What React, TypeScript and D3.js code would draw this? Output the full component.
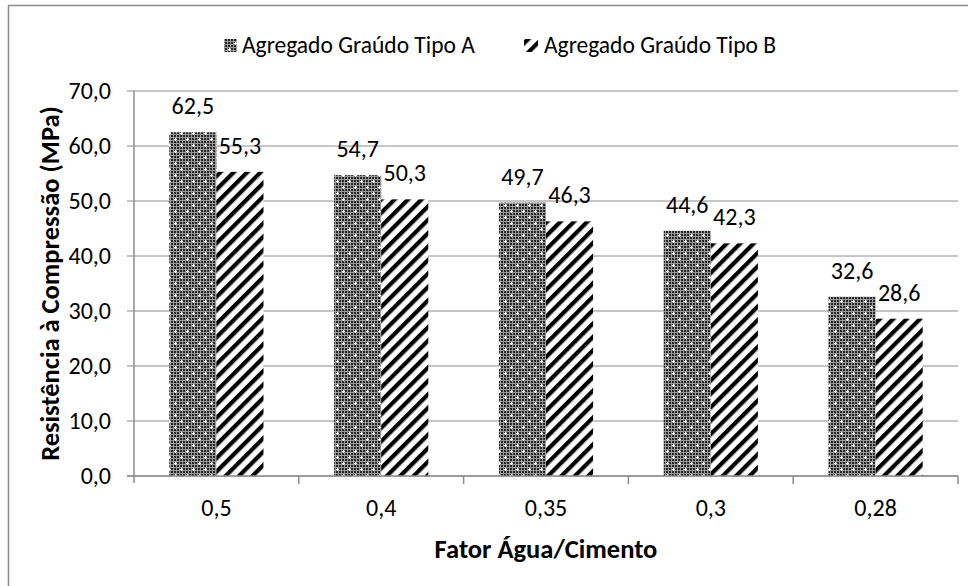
import React from "react";
import * as d3 from "d3";

const categories = ["0,5", "0,4", "0,35", "0,3", "0,28"];
const seriesNames = ["Agregado Graúdo Tipo A", "Agregado Graúdo Tipo B"];
const valuesA = [62.5, 54.7, 49.7, 44.6, 32.6];
const valuesB = [55.3, 50.3, 46.3, 42.3, 28.6];
const yTicks = [0, 10, 20, 30, 40, 50, 60, 70];

const W = 968;
const H = 586;
const plotLeft = 134;
const plotRight = 958;
const plotTop = 91;
const plotBottom = 476;
const FONT = "Carlito, Calibri, Lato, 'Open Sans', 'Liberation Sans', sans-serif";
const FS = 24;
const FT = 26.5;

const fmt = (v: number) => v.toFixed(1).replace(".", ",");

export default function App() {
  const x = d3.scaleBand<string>().domain(categories).range([plotLeft, plotRight]).paddingInner(0).paddingOuter(0);
  const bw = x.bandwidth() / 3.5;
  const y = d3.scaleLinear().domain([0, 70]).range([plotBottom, plotTop]);
  const series = [
    { name: seriesNames[0], values: valuesA, fill: "url(#patA)" },
    { name: seriesNames[1], values: valuesB, fill: "url(#patB)" },
  ];

  const cells: JSX.Element[] = [];
  for (let i = 0; i < 4; i++)
    for (let j = 0; j < 4; j++)
      cells.push(<rect key={`c${i}-${j}`} x={i * 3} y={j * 3} width={2} height={2} fill="#262626" />);

  return (
    <svg width={W} height={H} style={{ position: "absolute", left: 0, top: 0, fontFamily: FONT }}>
      <defs>
        <pattern id="patA" patternUnits="userSpaceOnUse" width={12} height={12}>
          <rect width={12} height={12} fill="#9a9a9a" />
          {cells}
          <rect x={1} y={0} width={1} height={3} fill="#fff" />
          <rect x={0} y={1} width={3} height={1} fill="#fff" />
          <rect x={7} y={6} width={1} height={3} fill="#fff" />
          <rect x={6} y={7} width={3} height={1} fill="#fff" />
        </pattern>
        <pattern id="patB" patternUnits="userSpaceOnUse" width={9.5} height={9.5} patternTransform="rotate(45)">
          <rect width={9.5} height={9.5} fill="#fff" />
          <rect x={0} y={0} width={4.2} height={9.5} fill="#000" />
        </pattern>
      </defs>
      <rect x={0} y={0} width={W} height={H} fill="#fff" />
      <rect x={8.5} y={5.5} width={W + 20} height={H + 20} fill="none" stroke="#8c8c8c" strokeWidth={1.5} />

      {yTicks.map((t) => (
        <g key={t}>
          <line x1={plotLeft - 7} x2={plotRight} y1={y(t)} y2={y(t)} stroke="#8c8c8c" strokeWidth={1} />
          <text x={111} y={y(t)} dy="0.35em" textAnchor="end" fontSize={FS} fill="#000">
            {fmt(t)}
          </text>
        </g>
      ))}
      <line x1={plotLeft} x2={plotLeft} y1={plotTop} y2={plotBottom + 7} stroke="#8c8c8c" strokeWidth={1.5} />

      {categories.map((c, i) => {
        const cx = (x(c) as number) + x.bandwidth() / 2;
        return (
          <g key={c}>
            {series.map((s, k) => {
              const bx = cx - bw + k * bw;
              const v = s.values[i];
              return (
                <g key={s.name}>
                  <rect x={bx} y={y(v)} width={bw} height={plotBottom - y(v)} fill={s.fill} />
                  <text x={bx + bw / 2} y={y(v) - 18} textAnchor="middle" fontSize={FS} fill="#000">
                    {fmt(v)}
                  </text>
                </g>
              );
            })}
          </g>
        );
      })}

      <line x1={plotLeft - 7} x2={plotRight} y1={plotBottom} y2={plotBottom} stroke="#8c8c8c" strokeWidth={1.5} />
      {categories.map((c) => (
        <line key={c} x1={(x(c) as number) + x.bandwidth()} x2={(x(c) as number) + x.bandwidth()} y1={plotBottom} y2={plotBottom + 8} stroke="#8c8c8c" strokeWidth={1.5} />
      ))}
      {categories.map((c) => (
        <text key={c} x={(x(c) as number) + x.bandwidth() / 2} y={516} textAnchor="middle" fontSize={FS} fill="#000">
          {c}
        </text>
      ))}

      <text x={546} y={558} textAnchor="middle" fontSize={FT} fontWeight="bold" fill="#000">
        Fator Água/Cimento
      </text>
      <text transform={`translate(59, ${(plotTop + plotBottom) / 2}) rotate(-90)`} textAnchor="middle" fontSize={FT} fontWeight="bold" fill="#000">
        Resistência à Compressão (MPa)
      </text>

      <rect x={224} y={39} width={13} height={13} fill="url(#patA)" />
      <text x={242} y={53} fontSize={23.5} fill="#000">{seriesNames[0]}</text>
      <rect x={524} y={39} width={14} height={13} fill="url(#patB)" />
      <text x={544} y={53} fontSize={23.5} fill="#000">{seriesNames[1]}</text>
    </svg>
  );
}
